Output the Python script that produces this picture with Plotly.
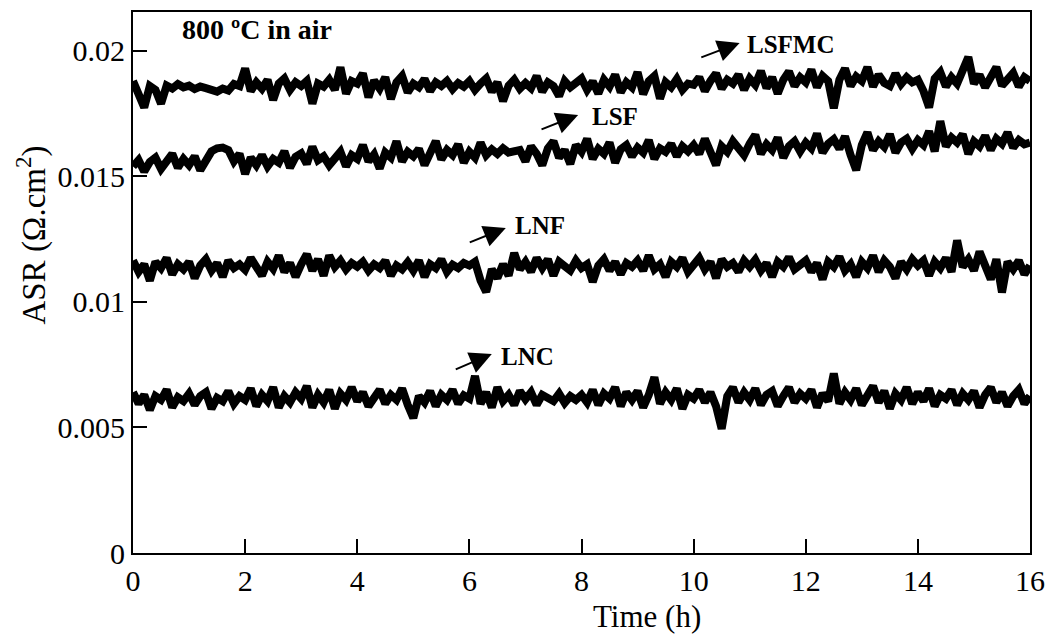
import numpy as np
import plotly.graph_objects as go

# Time axis: one reading every 0.1 h from 0 to 16 h
time_h = np.round(np.arange(161) * 0.1, 1)

asr_lsfmc = [
    0.01880, 0.01835, 0.01775, 0.01860, 0.01845, 0.01790, 0.01862, 0.01850, 0.01868, 0.01855,
    0.01862, 0.01848, 0.01858, 0.01852, 0.01845, 0.01838, 0.01850, 0.01842, 0.01868, 0.01860,
    0.01930, 0.01840, 0.01875, 0.01850, 0.01885, 0.01805, 0.01870, 0.01890, 0.01845, 0.01875,
    0.01860, 0.01880, 0.01790, 0.01870, 0.01858, 0.01885, 0.01845, 0.01935, 0.01830, 0.01880,
    0.01870, 0.01910, 0.01815, 0.01882, 0.01850, 0.01895, 0.01808, 0.01875, 0.01900, 0.01835,
    0.01870, 0.01855, 0.01888, 0.01840, 0.01875, 0.01860, 0.01880, 0.01848, 0.01872, 0.01858,
    0.01880, 0.01845, 0.01870, 0.01890, 0.01838, 0.01875, 0.01800, 0.01862, 0.01885, 0.01850,
    0.01872, 0.01852, 0.01900, 0.01838, 0.01875, 0.01860, 0.01820, 0.01880, 0.01855, 0.01870,
    0.01890, 0.01845, 0.01878, 0.01830, 0.01885, 0.01858, 0.01905, 0.01835, 0.01875, 0.01855,
    0.01915, 0.01828, 0.01880, 0.01900, 0.01810, 0.01875, 0.01855, 0.01888, 0.01845, 0.01870,
    0.01865, 0.01895, 0.01840, 0.01880, 0.01910, 0.01850, 0.01885, 0.01870, 0.01905, 0.01845,
    0.01890, 0.01865, 0.01920, 0.01852, 0.01895, 0.01830, 0.01885, 0.01918, 0.01860, 0.01895,
    0.01875, 0.01925, 0.01855, 0.01900, 0.01880, 0.01772, 0.01885, 0.01930, 0.01860, 0.01898,
    0.01880, 0.01935, 0.01858, 0.01905, 0.01872, 0.01860, 0.01910, 0.01868, 0.01895, 0.01875,
    0.01885, 0.01840, 0.01775, 0.01890, 0.01915, 0.01858, 0.01895, 0.01870, 0.01925, 0.01975,
    0.01870, 0.01905, 0.01855, 0.01898, 0.01935, 0.01862, 0.01890, 0.01912, 0.01858, 0.01895,
    0.01880,
]

asr_lsf = [
    0.01540, 0.01565, 0.01520, 0.01558, 0.01575, 0.01530, 0.01560, 0.01590, 0.01535, 0.01570,
    0.01545, 0.01580, 0.01525, 0.01562, 0.01600, 0.01612, 0.01615, 0.01605, 0.01560, 0.01590,
    0.01510, 0.01575, 0.01545, 0.01585, 0.01540, 0.01570, 0.01555, 0.01600, 0.01535, 0.01578,
    0.01592, 0.01550, 0.01618, 0.01565, 0.01580, 0.01545, 0.01575, 0.01598, 0.01540, 0.01585,
    0.01570, 0.01625, 0.01560, 0.01588, 0.01532, 0.01595, 0.01575, 0.01640, 0.01560, 0.01598,
    0.01580, 0.01610, 0.01545, 0.01600, 0.01640, 0.01568, 0.01605, 0.01585, 0.01628, 0.01555,
    0.01598, 0.01575, 0.01635, 0.01585, 0.01608, 0.01590, 0.01612, 0.01595, 0.01600, 0.01605,
    0.01560, 0.01620, 0.01590, 0.01545, 0.01612, 0.01640, 0.01575, 0.01605, 0.01550, 0.01625,
    0.01598, 0.01650, 0.01570, 0.01610, 0.01590, 0.01635, 0.01555, 0.01608, 0.01625, 0.01580,
    0.01615, 0.01595, 0.01645, 0.01570, 0.01612, 0.01598, 0.01630, 0.01580, 0.01620, 0.01600,
    0.01625, 0.01590, 0.01650, 0.01605, 0.01545, 0.01620, 0.01598, 0.01640, 0.01610, 0.01585,
    0.01630, 0.01665, 0.01590, 0.01628, 0.01605, 0.01655, 0.01575, 0.01620, 0.01640, 0.01600,
    0.01635, 0.01612, 0.01670, 0.01595, 0.01630, 0.01648, 0.01610, 0.01660, 0.01585, 0.01525,
    0.01625, 0.01675, 0.01605, 0.01640, 0.01618, 0.01668, 0.01595, 0.01635, 0.01650, 0.01610,
    0.01645, 0.01625, 0.01680, 0.01600, 0.01720, 0.01620, 0.01655, 0.01635, 0.01668, 0.01590,
    0.01640, 0.01620, 0.01662, 0.01605, 0.01650, 0.01630, 0.01675, 0.01615, 0.01645, 0.01628,
    0.01635,
]

asr_lnf = [
    0.01165, 0.01120, 0.01150, 0.01085, 0.01160, 0.01135, 0.01175, 0.01110, 0.01150, 0.01130,
    0.01160, 0.01095, 0.01145, 0.01170, 0.01125, 0.01155, 0.01100, 0.01165, 0.01135, 0.01150,
    0.01128, 0.01175, 0.01140, 0.01105, 0.01160, 0.01132, 0.01185, 0.01120, 0.01155, 0.01100,
    0.01150, 0.01190, 0.01125, 0.01170, 0.01105, 0.01185, 0.01140, 0.01165, 0.01130, 0.01155,
    0.01140, 0.01160, 0.01125, 0.01150, 0.01135, 0.01165, 0.01105, 0.01145, 0.01130, 0.01158,
    0.01125, 0.01165, 0.01100, 0.01150, 0.01135, 0.01170, 0.01120, 0.01148, 0.01135, 0.01155,
    0.01145, 0.01160, 0.01085, 0.01040, 0.01130, 0.01095, 0.01150, 0.01105, 0.01195, 0.01130,
    0.01160, 0.01120, 0.01175, 0.01135, 0.01170, 0.01105, 0.01160, 0.01140, 0.01125, 0.01165,
    0.01135, 0.01150, 0.01080, 0.01145, 0.01170, 0.01125, 0.01160, 0.01110, 0.01155, 0.01140,
    0.01165, 0.01125, 0.01185, 0.01130, 0.01150, 0.01100, 0.01160, 0.01140, 0.01175, 0.01120,
    0.01150, 0.01175, 0.01130, 0.01160, 0.01095, 0.01170, 0.01140, 0.01155, 0.01120, 0.01165,
    0.01140, 0.01168, 0.01125, 0.01155, 0.01100, 0.01160, 0.01140, 0.01178, 0.01130, 0.01150,
    0.01165, 0.01120, 0.01155, 0.01090, 0.01160, 0.01140, 0.01180, 0.01125, 0.01150, 0.01100,
    0.01160, 0.01135, 0.01185, 0.01120, 0.01165, 0.01140, 0.01095, 0.01160, 0.01130, 0.01170,
    0.01145, 0.01165, 0.01105, 0.01160, 0.01135, 0.01175, 0.01120, 0.01245, 0.01140, 0.01170,
    0.01125, 0.01200, 0.01150, 0.01090, 0.01170, 0.01038, 0.01160, 0.01130, 0.01165, 0.01110,
    0.01145,
]

asr_lnc = [
    0.00640, 0.00595, 0.00630, 0.00570, 0.00625, 0.00610, 0.00650, 0.00580, 0.00620, 0.00605,
    0.00635, 0.00590, 0.00625, 0.00640, 0.00575, 0.00618, 0.00605, 0.00645, 0.00595, 0.00625,
    0.00610, 0.00655, 0.00585, 0.00630, 0.00605, 0.00660, 0.00580, 0.00625, 0.00600, 0.00640,
    0.00615, 0.00665, 0.00580, 0.00630, 0.00600, 0.00650, 0.00575, 0.00635, 0.00610, 0.00660,
    0.00605, 0.00640, 0.00585, 0.00625, 0.00650, 0.00595, 0.00630, 0.00610, 0.00655, 0.00590,
    0.00538, 0.00625, 0.00600, 0.00645, 0.00585, 0.00630, 0.00610, 0.00650, 0.00595, 0.00628,
    0.00615, 0.00705, 0.00595, 0.00640, 0.00580, 0.00660, 0.00605, 0.00630, 0.00590, 0.00645,
    0.00612, 0.00640, 0.00590, 0.00630, 0.00615, 0.00605, 0.00635, 0.00598, 0.00625, 0.00610,
    0.00630, 0.00600, 0.00650, 0.00590, 0.00635, 0.00615, 0.00660, 0.00585, 0.00640, 0.00610,
    0.00645, 0.00580, 0.00630, 0.00700, 0.00595, 0.00640, 0.00610, 0.00655, 0.00575, 0.00630,
    0.00615, 0.00650, 0.00600, 0.00640, 0.00585, 0.00495, 0.00625, 0.00660, 0.00600, 0.00640,
    0.00610, 0.00655, 0.00590, 0.00630, 0.00645, 0.00585, 0.00625, 0.00660, 0.00600, 0.00635,
    0.00615, 0.00650, 0.00580, 0.00635, 0.00605, 0.00715, 0.00595, 0.00640, 0.00610, 0.00655,
    0.00590, 0.00630, 0.00665, 0.00600, 0.00645, 0.00575, 0.00635, 0.00610, 0.00660, 0.00595,
    0.00640, 0.00605, 0.00655, 0.00585, 0.00630, 0.00615, 0.00650, 0.00590, 0.00635, 0.00610,
    0.00645, 0.00580, 0.00630, 0.00660, 0.00600, 0.00640, 0.00585, 0.00625, 0.00650, 0.00595,
    0.00625,
]

series_names = ["LSFMC", "LSF", "LNF", "LNC"]
series_values = [asr_lsfmc, asr_lsf, asr_lnf, asr_lnc]

x_ticks = [0, 2, 4, 6, 8, 10, 12, 14, 16]
y_ticks = [0, 0.005, 0.01, 0.015, 0.02]
y_tick_text = ["0", "0.005", "0.01", "0.015", "0.02"]

# label text position (x, y) and arrow tail/head in data coordinates
label_pos = {"LSFMC": (10.92, 0.02024), "LSF": (8.15, 0.0174), "LNF": (6.78, 0.01303), "LNC": (6.53, 0.00781)}
arrow_tail = {"LSFMC": (10.11, 0.01972), "LSF": (7.26, 0.01685), "LNF": (5.98, 0.01235), "LNC": (5.73, 0.00729)}
arrow_head = {"LSFMC": (10.82, 0.02032), "LSF": (7.94, 0.01745), "LNF": (6.65, 0.01295), "LNC": (6.40, 0.00793)}

FONT = "Liberation Serif, Times New Roman, serif"

fig = go.Figure()
for name, vals in zip(series_names, series_values):
    assert len(vals) == len(time_h)
    fig.add_trace(go.Scatter(x=time_h, y=vals, mode="lines", name=name,
                             line=dict(color="black", width=8), showlegend=False))

annotations = []
for name in series_names:
    tx, ty = label_pos[name]
    annotations.append(dict(x=tx, y=ty, xref="x", yref="y", text="<b>" + name + "</b>",
                            showarrow=False, xanchor="left", yanchor="middle",
                            font=dict(family=FONT, size=25, color="black")))
    hx, hy = arrow_head[name]
    ax_, ay_ = arrow_tail[name]
    annotations.append(dict(x=hx, y=hy, ax=ax_, ay=ay_, xref="x", yref="y", axref="x", ayref="y",
                            text="", showarrow=True, arrowhead=2, arrowsize=2.2, arrowwidth=2,
                            arrowcolor="black"))

annotations.append(dict(x=0.052, y=0.968, xref="paper", yref="paper", text="<b>800 ºC in air</b>",
                        showarrow=False, xanchor="left", yanchor="middle",
                        font=dict(family=FONT, size=28, color="black")))
annotations.append(dict(x=9.17, y=-0.118, xref="x", yref="paper", text="Time (h)",
                        showarrow=False, xanchor="center", yanchor="middle",
                        font=dict(family=FONT, size=31, color="black")))
annotations.append(dict(x=-0.113, y=0.01267, xref="paper", yref="y", text="ASR (Ω.cm<sup>2</sup>)",
                        showarrow=False, textangle=-90, xanchor="center", yanchor="middle",
                        font=dict(family=FONT, size=33, color="black")))

fig.update_layout(
    width=1047, height=642,
    margin=dict(l=133, r=17, t=12, b=89, autoexpand=False),
    paper_bgcolor="white", plot_bgcolor="white",
    font=dict(family=FONT, size=30, color="black"),
    annotations=annotations,
    xaxis=dict(range=[0, 16], tickvals=x_ticks, ticks="inside", ticklen=14, tickwidth=1.5,
               tickcolor="black", showline=True, linecolor="black", linewidth=2, mirror=True,
               showgrid=False, zeroline=False, automargin=False,
               tickfont=dict(family=FONT, size=30)),
    yaxis=dict(range=[0, 0.02155], tickvals=y_ticks, ticktext=y_tick_text, ticks="inside",
               ticklen=14, tickwidth=1.5, tickcolor="black", showline=True, linecolor="black",
               linewidth=2, mirror=True, showgrid=False, zeroline=False, automargin=False,
               tickfont=dict(family=FONT, size=30)),
)

# remove the default page margin so the figure fills the window exactly
fig.write_html("out.html", config={"displayModeBar": False},
               post_script="document.body.style.margin='0';document.body.style.overflow='hidden';")
